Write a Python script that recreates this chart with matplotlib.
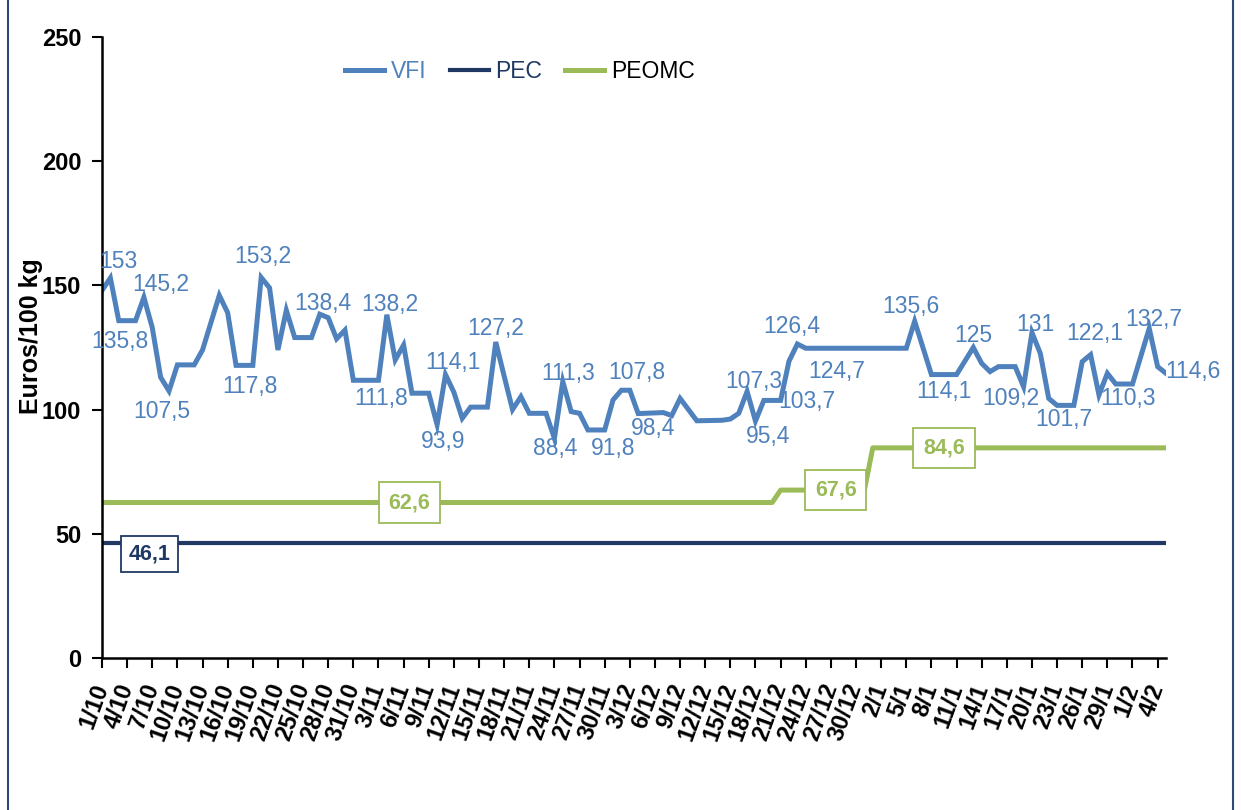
import numpy as np
import pandas as pd
import matplotlib.pyplot as plt
from matplotlib.lines import Line2D

# days counted from 1/10
vfi_day = [0, 1, 2, 4, 5, 6, 7, 8, 9, 11, 12, 14, 15, 16, 18, 19, 20, 21, 22, 23,
           25, 26, 27, 28, 29, 30, 33, 34, 35, 36, 37, 39, 40, 41, 42, 43, 44, 46, 47, 48,
           49, 50, 51, 53, 54, 55, 56, 57, 58, 60, 61, 62, 63, 64, 67, 68, 69, 71, 74, 75,
           76, 77, 78, 79, 81, 82, 83, 84, 96, 97, 99, 102, 104, 105, 106, 107, 109, 110, 111, 112,
           113, 114, 116, 117, 118, 119, 120, 121, 123, 125, 126, 127]
vfi_val = [148, 153, 135.8, 135.8, 145.2, 133, 113, 107.5, 118, 118, 124, 146, 139, 117.8, 117.8, 153.2, 149, 124, 140, 129,
           129, 138.4, 137, 128.5, 132, 111.8, 111.8, 138.2, 120, 126, 106.6, 106.6, 93.9, 114.1, 107, 96.5, 101, 101, 127.2, 113.5,
           100, 105.2, 98.5, 98.5, 88.4, 111.3, 99.2, 98.5, 91.8, 91.8, 103.9, 107.8, 107.8, 98.4, 98.8, 97.6, 104.5, 95.5, 95.7, 96.2,
           98.5, 107.3, 95.4, 103.7, 103.7, 119.5, 126.4, 124.7, 124.7, 135.6, 114.1, 114.1, 125, 118.6, 115.3, 117.3, 117.3, 109.2, 131, 122.6,
           104.5, 101.7, 101.7, 119.3, 122.1, 105.9, 114.6, 110.3, 110.3, 132.7, 117.3, 114.6]

pec_day = [0, 127]
pec_val = [46.1, 46.1]

peomc_day = [0, 80, 81, 91, 92, 127]
peomc_val = [62.6, 62.6, 67.6, 67.6, 84.6, 84.6]

dates = pd.date_range('2020-10-01', periods=128, freq='D')
tick_days = list(range(0, 127, 3))
tick_labels = [f"{dates[d].day}/{dates[d].month}" for d in tick_days]

# labelled VFI points: (day, offset x pt, offset y pt)
vfi_labels = [(1, 6, 12), (2, 1, -15), (5, 12, 9), (8, -5, -15), (16, 10, -15), (19, 1, 15),
              (26, 2, 8), (30, 20, -13), (34, 2, 7), (40, 4, -12), (41, 5, 9), (47, 0, 10),
              (54, 0.5, -7), (55, 4, 6), (58, 18, -13), (62, 11, 13), (64, 11, -10.6),
              (77, 5, 7), (78, 9, -11), (79, 31, -1), (83, -4, 12.5), (84, 22, -17),
              (97, -3, 10.4), (99, 9, -12.3), (104, 0, 9), (110, -9, -8.4), (111, 2.4, 5.5),
              (114, 4.6, -10.5), (118, 3, 15.4), (121, 9, -10.3), (125, 3, 6.5), (127, 19.6, 1)]

blue = '#4F81BD'
navy = '#1F3864'
green = '#9BBB59'
lab_font = ['Liberation Sans', 'DejaVu Sans']

plt.rcParams['font.family'] = ['Liberation Sans', 'DejaVu Sans']

fig = plt.figure(figsize=(12.41, 8.10), dpi=100)
ax = fig.add_axes([102 / 1241, 1 - 658 / 810, 1064 / 1241, 621 / 810])

ax.plot(vfi_day, vfi_val, color=blue, lw=3.6, solid_joinstyle='miter', label='VFI')
ax.plot(pec_day, pec_val, color=navy, lw=3.0, label='PEC')
ax.plot(peomc_day, peomc_val, color=green, lw=3.6, label='PEOMC')

def fmt(v):
    s = f"{v:.1f}".replace('.', ',')
    return s[:-2] if s.endswith(',0') else s

for d, dx, dy in vfi_labels:
    v = vfi_val[vfi_day.index(d)]
    ax.annotate(fmt(v), (d, v), xytext=(dx, dy), textcoords='offset points',
                ha='center', va='center', color=blue, fontsize=16.5, family=lab_font)

# boxed labels
ax.text(5.7, 41.9, fmt(pec_val[0]), ha='center', va='center', color=navy, fontsize=15.5,
        family=lab_font, fontweight='bold',
        bbox=dict(boxstyle='square,pad=0.35', fc='white', ec=navy, lw=1.3))
for d, v in [(36.7, 62.6), (87.6, 67.6), (100.5, 84.6)]:
    ax.text(d, v, fmt(v), ha='center', va='center', color=green, fontsize=15.5,
            family=lab_font, fontweight='bold',
            bbox=dict(boxstyle='square,pad=0.45', fc='white', ec=green, lw=1.3))

ax.set_xlim(0, 127)
ax.set_ylim(0, 250)
ax.set_yticks(range(0, 251, 50))
ax.set_xticks(tick_days)
ax.set_xticklabels(tick_labels, rotation=70, ha='right', va='center',
                   rotation_mode='anchor', fontweight='bold', fontsize=17)
for lab in ax.get_yticklabels():
    lab.set_fontweight('bold')
    lab.set_fontsize(17)
ax.tick_params(axis='x', length=7, width=1.5, pad=12)
ax.tick_params(axis='y', length=7, width=1.5, pad=8)
ax.spines['top'].set_visible(False)
ax.spines['right'].set_visible(False)
ax.spines['left'].set_linewidth(1.8)
ax.spines['bottom'].set_linewidth(1.8)
ax.set_ylabel('Euros/100 kg', fontweight='bold', fontsize=18)
ax.yaxis.set_label_coords(-0.055, 0.518)

leg = ax.legend(loc='center', bbox_to_anchor=(0.393, 0.944), ncol=3, frameon=False,
                prop={'family': lab_font, 'size': 16.5}, handlelength=1.7,
                columnspacing=1.0, handletextpad=0.3)
for txt, c in zip(leg.get_texts(), [blue, navy, 'black']):
    txt.set_color(c)

# chart border
fig.add_artist(Line2D([8 / 1241, 8 / 1241], [0, 1], color='#2E4A7A', lw=1.5))
fig.add_artist(Line2D([1233 / 1241, 1233 / 1241], [0, 1], color='#2E4A7A', lw=1.5))

fig.savefig('out.png', dpi=100)
